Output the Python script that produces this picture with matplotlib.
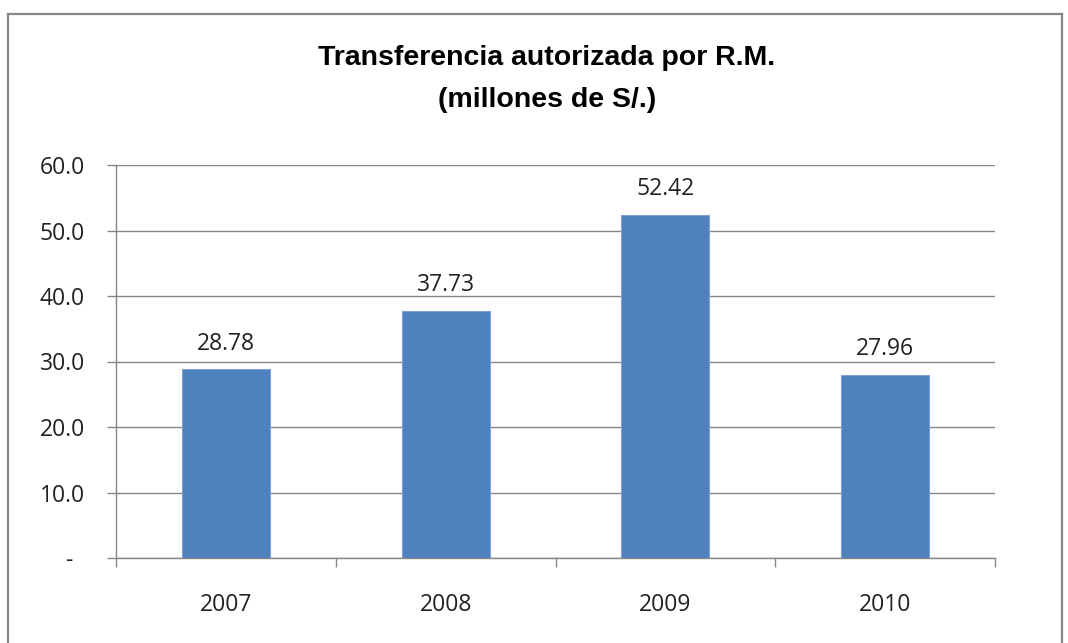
import matplotlib.pyplot as plt
from matplotlib.lines import Line2D
import numpy as np

# data
years = ['2007', '2008', '2009', '2010']
values = [28.78, 37.73, 52.42, 27.96]
yticks = [0, 10, 20, 30, 40, 50, 60]

plt.rcParams['font.family'] = ['Open Sans', 'DejaVu Sans']

fig = plt.figure(figsize=(10.68, 6.43), dpi=100)
W, H = 1068.0, 643.0
ax = fig.add_axes([116 / W, 1 - 558 / H, (995 - 116) / W, (558 - 165) / H])

x = np.arange(len(years))
bars = ax.bar(x, values, width=0.4, color='#4F81BD', edgecolor='#7FA3D3', linewidth=0.8, zorder=3)
ax.bar_label(bars, labels=['%.2f' % v for v in values], padding=10, fontsize=16.5, color='#222222')

ax.set_xlim(-0.5, len(years) - 0.5)
ax.set_ylim(0, 60)
ax.set_yticks(yticks)
ax.set_yticklabels(['-  ' if t == 0 else '%.1f' % t for t in yticks])
ax.set_xticks(x)
ax.set_xticklabels(years)
ax.set_xticks(np.arange(len(years) + 1) - 0.5, minor=True)

ax.grid(axis='y', color='#868686', linewidth=1.0, zorder=0)
for s in ['top', 'right']:
    ax.spines[s].set_visible(False)
for s in ['left', 'bottom']:
    ax.spines[s].set_color('#868686')
    ax.spines[s].set_linewidth(1.0)

ax.tick_params(axis='y', length=6.5, width=1, color='#868686', pad=16, labelsize=16.5, labelcolor='#222222')
ax.tick_params(axis='x', which='major', length=0, pad=25, labelsize=16.5, labelcolor='#222222')
ax.tick_params(axis='x', which='minor', length=6.5, width=1, color='#868686')

tfont = ['Liberation Sans Narrow', 'Liberation Sans', 'DejaVu Sans']
fig.text(547 / W, 1 - 58 / H, 'Transferencia autorizada por R.M.', ha='center', va='center',
         fontsize=20.5, fontweight='bold', family=tfont)
fig.text(547 / W, 1 - 100 / H, '(millones de S/.)', ha='center', va='center',
         fontsize=20.5, fontweight='bold', family=tfont)

# chart frame
bc = '#878787'
fig.add_artist(Line2D([8 / W, 8 / W], [0, 1 - 14 / H], color=bc, lw=1.6))
fig.add_artist(Line2D([8 / W, 1062 / W], [1 - 14 / H, 1 - 14 / H], color=bc, lw=1.6))
fig.add_artist(Line2D([1062 / W, 1062 / W], [0, 1 - 14 / H], color=bc, lw=1.6))

fig.savefig('out.png', dpi=100)
